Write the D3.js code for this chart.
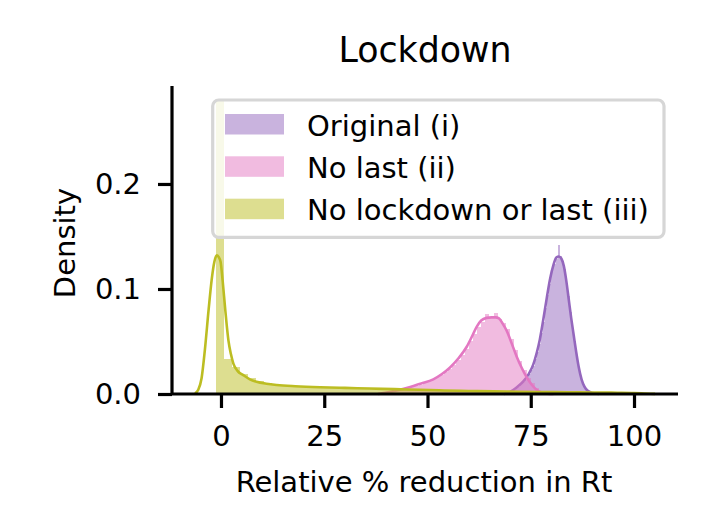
<!DOCTYPE html>
<html><head><meta charset="utf-8">
<script src="https://cdn.jsdelivr.net/npm/d3@7"></script>
<style>
html,body{margin:0;padding:0;background:#fff;}
svg{display:block;font-family:"DejaVu Sans",sans-serif;}
</style></head>
<body><svg id="c" width="708" height="531"></svg>
<script>
// ---- data ----
const seriesNames = ["Original (i)", "No last (ii)", "No lockdown or last (iii)"];
const seriesColors = ["#9467bd", "#e377c2", "#bcbd22"];
const xTicks = [0, 25, 50, 75, 100];
const yTicks = [0.0, 0.1, 0.2];

// histogram: start edge, bin width, densities
const origHistStart = 70, origHistWidth = 0.5;
const origHist = [0.002,0.003,0.004,0.006,0.007,0.009,0.011,0.013,0.016,0.019,
  0.023,0.027,0.033,0.040,0.048,0.058,0.069,0.082,0.094,0.105,
  0.116,0.124,0.129,0.142,0.131,0.127,0.119,0.106,0.093,0.078,
  0.063,0.050,0.036,0.026,0.017,0.011,0.006,0.003,0.0015,0.0005];
const noLastHistStart = 40, noLastHistWidth = 1;
const noLastHist = [0.002,0.003,0.003,0.004,0.005,0.006,0.007,0.008,0.009,0.011,
  0.012,0.014,0.016,0.018,0.021,0.024,0.028,0.032,0.037,0.043,
  0.050,0.057,0.064,0.069,0.076,0.073,0.077,0.071,0.068,0.062,
  0.052,0.042,0.031,0.023,0.015,0.010,0.006,0.003,0.0015,0.0005];
const noLockHistStart = -1.2, noLockHistWidth = 1.95;
const noLockHist = [0.279,0.033,0.026,0.019,0.015,0.012,0.010,0.009,0.008,0.0075,
  0.007,0.0068,0.0066,0.0064,0.0062,0.006,0.0058,0.0056,0.0055,0.0053,
  0.0051,0.005,0.0048,0.0047,0.0045,0.0044,0.0042,0.004,0.0039,0.0037,
  0.0036,0.0034,0.0033,0.0031,0.003,0.0028,0.0027,0.0026,0.0025,0.0024,
  0.0023,0.0022,0.0021,0.002,0.0019,0.0018,0.0017,0.0016,0.0015,0.0014,
  0.0013,0.0012];

// KDE curves [x, density]
const origKde = [[68.5,0],[70,0.002],[71.5,0.006],[73.2,0.012],[74.5,0.019],[75.6,0.028],
  [76.5,0.040],[77.2,0.052],[78,0.070],[78.9,0.092],[79.7,0.110],[80.5,0.123],[81.2,0.130],
  [81.8,0.131],[82.4,0.129],[83.0,0.122],[83.6,0.108],[84.2,0.090],[84.8,0.072],[85.4,0.056],
  [86.0,0.040],[86.6,0.026],[87.3,0.014],[88.0,0.007],[88.8,0.003],[90,0.001],[91.5,0]];
const noLastKde = [[38,0],[41,0.002],[43.3,0.004],[46,0.007],[48.5,0.010],[51.4,0.014],
  [53.5,0.019],[55.4,0.025],[57.5,0.034],[59.5,0.045],[60.8,0.055],[61.9,0.064],[63,0.070],
  [64.3,0.0725],[65.5,0.073],[66.5,0.073],[67.3,0.072],[68.2,0.067],[69.2,0.060],[70.4,0.048],
  [71.6,0.0355],[72.8,0.025],[74.0,0.016],[75.2,0.009],[76.4,0.004],[77.6,0.0015],[79,0.0003],[80.5,0]];
const noLockKde = [[-6.3,0.0005],[-5.5,0.004],[-4.7,0.015],[-3.9,0.042],[-3.0,0.080],[-2.25,0.109],
  [-1.6,0.126],[-1.0,0.132],[-0.5,0.130],[-0.1,0.126],[0.4,0.108],[0.97,0.083],[1.4,0.065],
  [1.8,0.051],[2.4,0.038],[3.0,0.029],[4.0,0.022],[5.4,0.018],[7,0.014],[8.6,0.0117],[11,0.0098],
  [13.5,0.0086],[18,0.0074],[24,0.0064],[30,0.0058],[36,0.0052],[42,0.0046],[48,0.0040],
  [54,0.0034],[60,0.0029],[66,0.0025],[72,0.0022],[78,0.0019],[84,0.0017],[90,0.0015],
  [96,0.0012],[100,0.0009],[102.5,0.0005],[105.1,0.0001]];

// ---- drawing ----
const svg = d3.select("#c");
const FS = 29;
const x = d3.scaleLinear().domain([-11.86, 110.65]).range([172, 678]);
const y = d3.scaleLinear().domain([0, 0.2933]).range([394, 86]);

const series = [
  {hist: origHist, start: origHistStart, w: origHistWidth, kde: origKde, color: seriesColors[0]},
  {hist: noLastHist, start: noLastHistStart, w: noLastHistWidth, kde: noLastKde, color: seriesColors[1]},
  {hist: noLockHist, start: noLockHistStart, w: noLockHistWidth, kde: noLockKde, color: seriesColors[2]}
];
const line = d3.line().x(d => x(d[0])).y(d => y(d[1])).curve(d3.curveMonotoneX);

series.forEach(s => {
  const bins = s.hist.map((v, i) => ({x0: s.start + i * s.w, x1: s.start + (i + 1) * s.w, v}));
  svg.append("g").selectAll("rect").data(bins).join("rect")
    .attr("x", d => x(d.x0)).attr("width", d => x(d.x1) - x(d.x0))
    .attr("y", d => y(d.v)).attr("height", d => y(0) - y(d.v))
    .attr("fill", s.color).attr("fill-opacity", 0.5).attr("shape-rendering", "crispEdges");
  svg.append("path").datum(s.kde).attr("d", line)
    .attr("fill", "none").attr("stroke", s.color).attr("stroke-width", 2.6);
});

// axes
const xAxis = d3.axisBottom(x).tickValues(xTicks).tickSize(14).tickSizeOuter(0).tickPadding(17)
  .tickFormat(d3.format("d"));
const gx = svg.append("g").attr("transform", "translate(0,394)").call(xAxis);
const yAxis = d3.axisLeft(y).tickValues(yTicks).tickSize(14).tickSizeOuter(0).tickPadding(17)
  .tickFormat(d3.format(".1f"));
const gy = svg.append("g").attr("transform", "translate(172,0)").call(yAxis);
[gx, gy].forEach(g => {
  g.selectAll("path.domain").attr("stroke", "#000").attr("stroke-width", 3.2);
  g.selectAll(".tick line").attr("stroke", "#000").attr("stroke-width", 3.2);
  g.selectAll(".tick text").attr("font-size", FS).attr("font-family", "DejaVu Sans").attr("fill", "#000");
});
gx.select("path.domain").attr("d", "M172,0H678");
gy.select("path.domain").attr("d", "M0,394V86");

// labels
svg.append("text").attr("x", 425).attr("y", 62).attr("text-anchor", "middle")
  .attr("font-size", 34.8).text("Lockdown");
svg.append("text").attr("x", 424).attr("y", 492).attr("text-anchor", "middle")
  .attr("font-size", FS).text("Relative % reduction in Rt");
svg.append("text").attr("transform", "translate(75,243) rotate(-90)").attr("text-anchor", "middle")
  .attr("font-size", FS).text("Density");

// legend
const lg = svg.append("g");
lg.append("rect").attr("x", 212.7).attr("y", 100).attr("width", 451.3).attr("height", 137.3)
  .attr("rx", 6).attr("fill", "#fff").attr("fill-opacity", 0.8)
  .attr("stroke", "#d6d6d6").attr("stroke-width", 3.2);
const rowY = [114, 156.3, 198.7];
seriesNames.forEach((n, i) => {
  lg.append("rect").attr("x", 225).attr("y", rowY[i]).attr("width", 59).attr("height", 20.5)
    .attr("fill", seriesColors[i]).attr("fill-opacity", 0.5);
  lg.append("text").attr("x", 307).attr("y", rowY[i] + 21.7).attr("font-size", FS).text(n);
});
</script></body></html>
